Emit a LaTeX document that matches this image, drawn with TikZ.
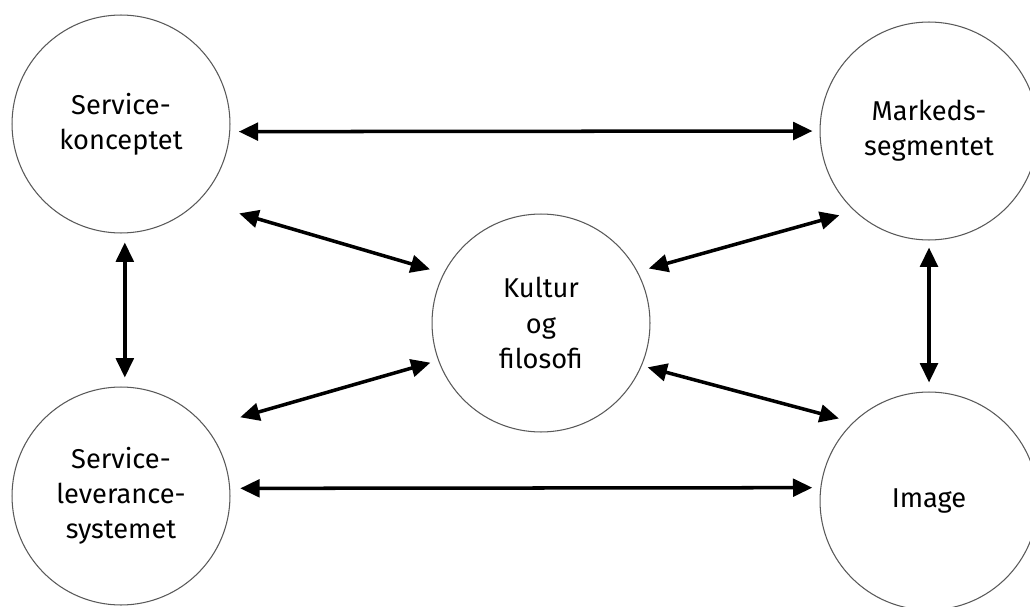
\documentclass[tikz,border=0pt]{standalone}
\usepackage{fontspec}
\setmainfont{Fira Sans}
\usetikzlibrary{arrows.meta, positioning}

\begin{document}
\begin{tikzpicture}[x=0.02cm, y=0.02cm,
    factor/.style={circle, draw=black!65, line width=0.6pt, fill=white,
      minimum size=4.36cm, inner sep=0pt, align=center, text=black,
      font=\fontsize{15.5}{20}\selectfont},
    link/.style={{Triangle[length=11pt,width=10pt]}-{Triangle[length=11pt,width=10pt]},
      line width=2pt}]

        \useasboundingbox (0,0) rectangle (1030,606);

        \node [factor] (konsept) at (121,482) {Service-\\konceptet};
        \node [factor] (marked) at (929,475) {Markeds-\\segmentet};
        \node [factor] (levering) at (121,110) {Service-\\leverance-\\systemet};
        \node [factor] (image) at (929,105) {Image};
        \node [factor] (kultur) at (541,283) {Kultur\\og\\filosofi};

        % outer ring
        \foreach \a/\b/\s/\e in {konsept.-4/marked.180/0.17cm/0.14cm,
                                 levering.4/image.173/0.2cm/0.16cm,
                                 konsept.-88/levering.88/0.18cm/0.18cm,
                                 marked.-90/image.90/0.14cm/0.18cm}
        \draw [link, shorten <=\s, shorten >=\e] (\a) -- (\b);

        % spokes to the centre
        \foreach \a/\b/\s/\e in {konsept.-45/kultur.153/0.85cm/0.28cm,
                                 levering.39/kultur.-160/0.71cm/0.16cm,
                                 marked.-133/kultur.28/0.31cm/0.23cm,
                                 image.134/kultur.-23/0.29cm/0.12cm}
        \draw [link, shorten <=\s, shorten >=\e] (\a) -- (\b);

\end{tikzpicture}
\end{document}
